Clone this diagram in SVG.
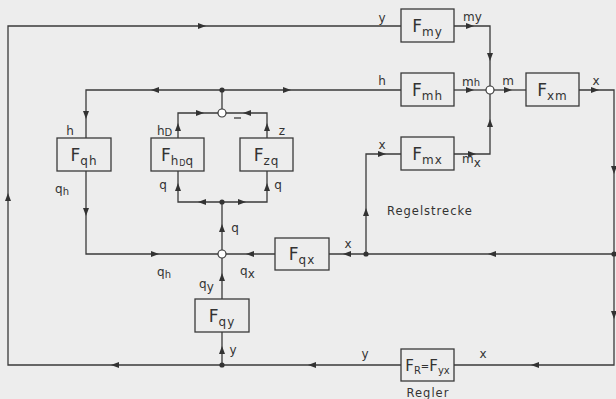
<svg xmlns="http://www.w3.org/2000/svg" xmlns:xlink="http://www.w3.org/1999/xlink" width="616" height="399" viewBox="0 0 616 399">
<style>
.bx{fill:none;stroke:#3a3a3a;stroke-width:1.3}
.ln{fill:none;stroke:#3a3a3a;stroke-width:1.3}
.F{font-family:"DejaVu Sans","Liberation Sans",sans-serif;font-size:17px;fill:#333}
.s{font-size:12px;letter-spacing:1px}
.lb{font-family:"DejaVu Sans","Liberation Sans",sans-serif;font-size:12px;fill:#333}
.ls{font-size:10px}
.cap{font-family:"DejaVu Sans","Liberation Sans",sans-serif;font-size:11.5px;fill:#333;letter-spacing:1px}
.dot{fill:#333}
.sum{fill:#fff;stroke:#3a3a3a;stroke-width:1.2}
</style>
<defs>
<path id="a" d="M4,0 L-4,-3 L-4,3 Z" fill="#333"/>
</defs>
<rect width="616" height="399" fill="#ededed"/>
<g id="connectors">
<path class="ln" d="M401,26 H8 V365 H401"/>
<path class="ln" d="M454,26 H490 V86"/>
<path class="ln" d="M401,90 H86 V138"/>
<path class="ln" d="M222,90 V109"/>
<path class="ln" d="M178,138 V113 H218"/>
<path class="ln" d="M267,138 V113 H226"/>
<path class="ln" d="M454,90 H486"/>
<path class="ln" d="M494,90 H526"/>
<path class="ln" d="M579,90 H614 V365 H454"/>
<path class="ln" d="M614,254 H329"/>
<path class="ln" d="M366,254 V154 H401"/>
<path class="ln" d="M454,154 H490 V94"/>
<path class="ln" d="M275,254 H226"/>
<path class="ln" d="M86,171 V254 H218"/>
<path class="ln" d="M222,250 V202"/>
<path class="ln" d="M178,171 V202 H267 V171"/>
<path class="ln" d="M222,299 V258"/>
<path class="ln" d="M222,365 V332"/>
<path class="ln" d="M234,118 H241"/>
<use xlink:href="#a" transform="translate(202,26)"/>
<use xlink:href="#a" transform="translate(8,197) rotate(-90)"/>
<use xlink:href="#a" transform="translate(115,365) rotate(180)"/>
<use xlink:href="#a" transform="translate(312,365) rotate(180)"/>
<use xlink:href="#a" transform="translate(470,26)"/>
<use xlink:href="#a" transform="translate(490,57) rotate(90)"/>
<use xlink:href="#a" transform="translate(287,90)"/>
<use xlink:href="#a" transform="translate(155,90) rotate(180)"/>
<use xlink:href="#a" transform="translate(86,115) rotate(90)"/>
<use xlink:href="#a" transform="translate(178,127) rotate(-90)"/>
<use xlink:href="#a" transform="translate(200,113)"/>
<use xlink:href="#a" transform="translate(267,127) rotate(-90)"/>
<use xlink:href="#a" transform="translate(247,113) rotate(180)"/>
<use xlink:href="#a" transform="translate(470,90)"/>
<use xlink:href="#a" transform="translate(508,90)"/>
<use xlink:href="#a" transform="translate(595,90)"/>
<use xlink:href="#a" transform="translate(614,170) rotate(90)"/>
<use xlink:href="#a" transform="translate(614,315) rotate(90)"/>
<use xlink:href="#a" transform="translate(535,365) rotate(180)"/>
<use xlink:href="#a" transform="translate(492,254) rotate(180)"/>
<use xlink:href="#a" transform="translate(347,254) rotate(180)"/>
<use xlink:href="#a" transform="translate(366,212) rotate(-90)"/>
<use xlink:href="#a" transform="translate(382,154)"/>
<use xlink:href="#a" transform="translate(472,154)"/>
<use xlink:href="#a" transform="translate(490,123) rotate(-90)"/>
<use xlink:href="#a" transform="translate(250,254) rotate(180)"/>
<use xlink:href="#a" transform="translate(86,212) rotate(90)"/>
<use xlink:href="#a" transform="translate(155,254)"/>
<use xlink:href="#a" transform="translate(222,228) rotate(-90)"/>
<use xlink:href="#a" transform="translate(178,187) rotate(-90)"/>
<use xlink:href="#a" transform="translate(267,187) rotate(-90)"/>
<use xlink:href="#a" transform="translate(202,202) rotate(180)"/>
<use xlink:href="#a" transform="translate(242,202)"/>
<use xlink:href="#a" transform="translate(222,277) rotate(-90)"/>
<use xlink:href="#a" transform="translate(222,350) rotate(-90)"/>
<circle class="dot" cx="222" cy="90" r="2.6"/>
<circle class="dot" cx="614" cy="254" r="2.6"/>
<circle class="dot" cx="366" cy="254" r="2.6"/>
<circle class="dot" cx="222" cy="202" r="2.6"/>
<circle class="dot" cx="222" cy="365" r="2.6"/>
<circle class="sum" cx="490" cy="90" r="4"/>
<circle class="sum" cx="222" cy="113" r="4"/>
<circle class="sum" cx="222" cy="254" r="4"/>
</g>
<g id="labels">
<text class="lb" x="382" y="22" text-anchor="middle">y</text>
<text class="lb" x="463" y="21">my</text>
<text class="lb" x="382" y="85" text-anchor="middle">h</text>
<text class="lb" x="462" y="86">m<tspan class="ls">h</tspan></text>
<text class="lb" x="508" y="85" text-anchor="middle">m</text>
<text class="lb" x="596" y="85" text-anchor="middle">x</text>
<text class="lb" x="382" y="149" text-anchor="middle">x</text>
<text class="lb" x="462" y="163">m<tspan dy="4">x</tspan></text>
<text class="lb" x="348" y="248" text-anchor="middle">x</text>
<text class="lb" x="70" y="135" text-anchor="middle">h</text>
<text class="lb" x="157" y="135">h<tspan class="ls" dy="1">D</tspan></text>
<text class="lb" x="282" y="135" text-anchor="middle">z</text>
<text class="lb" x="55" y="193">q<tspan class="ls" dy="2">h</tspan></text>
<text class="lb" x="163" y="189" text-anchor="middle">q</text>
<text class="lb" x="278" y="189" text-anchor="middle">q</text>
<text class="lb" x="235" y="232" text-anchor="middle">q</text>
<text class="lb" x="157" y="276">q<tspan class="ls" dy="2">h</tspan></text>
<text class="lb" x="240" y="275">q<tspan dy="3">x</tspan></text>
<text class="lb" x="199" y="288">q<tspan dy="3">y</tspan></text>
<text class="lb" x="233" y="354" text-anchor="middle">y</text>
<text class="lb" x="365" y="358" text-anchor="middle">y</text>
<text class="lb" x="483" y="358" text-anchor="middle">x</text>
<text class="cap" x="387" y="215">Regelstrecke</text>
<text class="cap" x="428" y="397" text-anchor="middle">Regler</text>
</g>
<g id="Fmy"><rect class="bx" x="401" y="9" width="53" height="33"/><text class="F" x="427.5" y="32" text-anchor="middle">F<tspan class="s" dy="4">my</tspan></text></g>
<g id="Fmh"><rect class="bx" x="401" y="73" width="53" height="33"/><text class="F" x="427.5" y="96" text-anchor="middle">F<tspan class="s" dy="4">mh</tspan></text></g>
<g id="Fxm"><rect class="bx" x="526" y="73" width="53" height="33"/><text class="F" x="552.5" y="96" text-anchor="middle">F<tspan class="s" dy="4">xm</tspan></text></g>
<g id="Fmx"><rect class="bx" x="401" y="137" width="53" height="33"/><text class="F" x="427.5" y="160" text-anchor="middle">F<tspan class="s" dy="4">mx</tspan></text></g>
<g id="Fqh"><rect class="bx" x="57" y="138" width="54" height="33"/><text class="F" x="84" y="161" text-anchor="middle">F<tspan class="s" dy="4">qh</tspan></text></g>
<g id="Fhdq"><rect class="bx" x="151" y="138" width="53" height="33"/><text class="F" x="177.5" y="161" text-anchor="middle">F<tspan class="s" dy="4">h</tspan><tspan style="font-size:8px" dy="1">D</tspan><tspan class="s" dy="-1">q</tspan></text></g>
<g id="Fzq"><rect class="bx" x="240" y="138" width="53" height="33"/><text class="F" x="266.5" y="161" text-anchor="middle">F<tspan class="s" dy="4">zq</tspan></text></g>
<g id="Fqx"><rect class="bx" x="275" y="238" width="54" height="32"/><text class="F" x="302" y="260" text-anchor="middle">F<tspan class="s" dy="4">qx</tspan></text></g>
<g id="Fqy"><rect class="bx" x="195" y="299" width="54" height="33"/><text class="F" x="222" y="322" text-anchor="middle">F<tspan class="s" dy="4">qy</tspan></text></g>
<g id="FR"><rect class="bx" x="401" y="349" width="53" height="32"/><text class="F" x="427.5" y="371" text-anchor="middle" style="font-size:15px">F<tspan style="font-size:10px" dy="3">R</tspan><tspan style="font-size:10px" dy="-4">=</tspan><tspan dy="1">F</tspan><tspan style="font-size:10px" dy="3">yx</tspan></text></g>
</svg>
